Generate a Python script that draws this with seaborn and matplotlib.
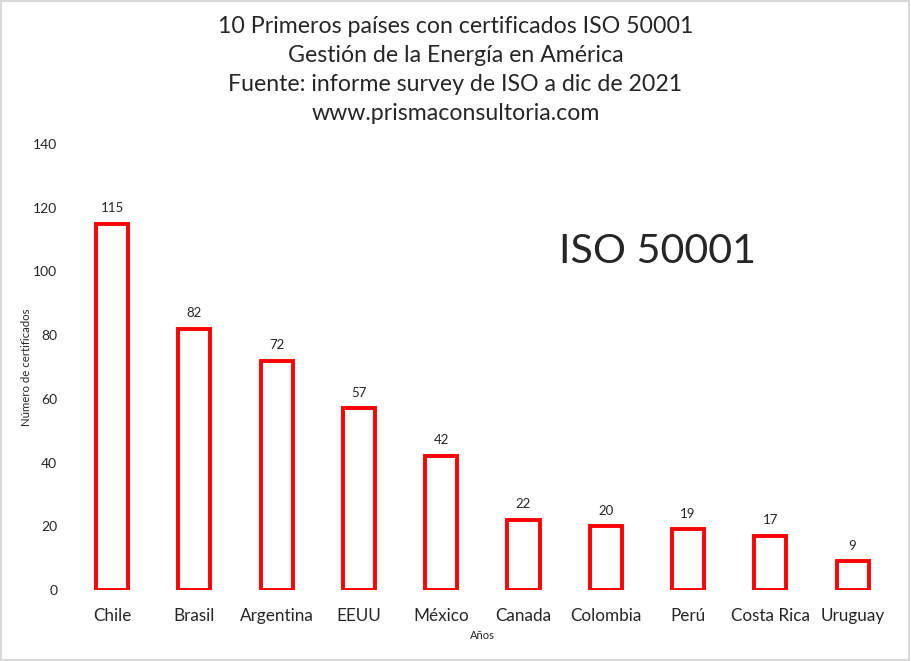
import matplotlib
matplotlib.use('Agg')
import matplotlib.pyplot as plt
import seaborn as sns
import pandas as pd

paises = ['Chile', 'Brasil', 'Argentina', 'EEUU', 'México', 'Canada',
          'Colombia', 'Perú', 'Costa Rica', 'Uruguay']
certificados = [115, 82, 72, 57, 42, 22, 20, 19, 17, 9]
y_ticks = [0, 20, 40, 60, 80, 100, 120, 140]

titulo = ('10 Primeros países con certificados ISO 50001\n'
          'Gestión de la Energía en América\n'
          'Fuente: informe survey de ISO a dic de 2021\n'
          'www.prismaconsultoria.com')

sns.set_style('white')
plt.rcParams['font.family'] = ['Lato', 'DejaVu Sans']

df = pd.DataFrame({'País': paises, 'Certificados': certificados})

fig = plt.figure(figsize=(9.11, 6.61), dpi=100)
ax = fig.add_axes([0.078, 0.1074, 0.903, 0.6747])

sns.barplot(data=df, x='País', y='Certificados', ax=ax, width=0.39,
            color='white', edgecolor='#ff0000', linewidth=2.8, saturation=1)

for i, v in enumerate(certificados):
    ax.annotate(str(v), (i, v), xytext=(0, 7), textcoords='offset points',
                ha='center', va='bottom', fontsize=9.5)

ax.set_ylim(0, 140)
ax.set_yticks(y_ticks)
ax.set_yticklabels([str(t) for t in y_ticks], fontsize=10)
ax.tick_params(axis='x', labelsize=12.3, pad=13, length=0)
ax.tick_params(axis='y', pad=10, length=0)
ax.set_xlabel('Años', fontsize=8, labelpad=4)
ax.set_ylabel('Número de certificados', fontsize=8.2, labelpad=1)
ax.set_xlim(-0.5, len(paises) - 0.5)
sns.despine(ax=ax, left=True, bottom=True)

fig.text(0.5, 0.976, titulo, ha='center', va='top', fontsize=16.7,
         linespacing=1.48)
fig.text(0.7217, 0.619, 'ISO 50001', ha='center', va='center', fontsize=29.7)

fig.patches.append(plt.Rectangle((0.001, 0.002), 0.997, 0.996,
                                 transform=fig.transFigure, fill=False,
                                 edgecolor='#d9d9d9', linewidth=1.5))

fig.savefig('out.png', dpi=100)
